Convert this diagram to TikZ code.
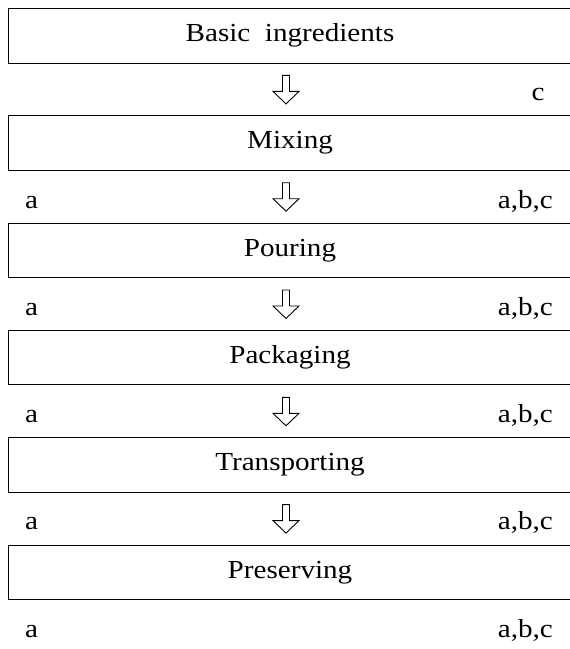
\documentclass[tikz,border=0pt]{standalone}
\usepackage{fontspec}
\setmainfont{Liberation Serif}[FakeStretch=1.12]
\usetikzlibrary{calc}
\begin{document}
\begin{tikzpicture}[x=1pt,y=-1pt,
  stage/.style={draw, line width=0.9pt, minimum width=564pt, minimum height=54.5pt,
    inner sep=0pt, font=\fontsize{26}{30}\selectfont},
  tag/.style={inner sep=0pt, font=\fontsize{26}{30}\selectfont},
  hollowarrow/.pic={
    \draw[line width=0.9pt, line join=miter]
      (-3.5,-14) -- (3.5,-14) -- (3.5,2) -- (13,2) -- (0,14.5)
      -- (-13,2) -- (-3.5,2) -- cycle;}]
\useasboundingbox (0,0) rectangle (570,649);

% process stages
\node[stage] (b0) at (290,35.75)  {Basic\ \ ingredients};
\node[stage] (b1) at (290,143.05) {Mixing};
\node[stage] (b2) at (290,250.35) {Pouring};
\node[stage] (b3) at (290,357.65) {Packaging};
\node[stage] (b4) at (290,464.95) {Transporting};
\node[stage] (b5) at (290,572.25) {Preserving};

% flow arrows between stages
\foreach \i/\j in {b0/b1,b1/b2,b2/b3,b3/b4,b4/b5}
  \pic at ($(\i.south)!0.5!(\j.north)+(-4,0)$) {hollowarrow};

% hazard labels
\node[tag, anchor=base] (r0) at (538,100) {c};
\foreach \k in {1,...,5}{
  \node[tag, anchor=base west] (l\k) at (25,{208+107.3*(\k-1)}) {a};
  \node[tag, anchor=base east] (r\k) at (553,{208+107.3*(\k-1)}) {a,b,c};
}
\end{tikzpicture}
\end{document}
